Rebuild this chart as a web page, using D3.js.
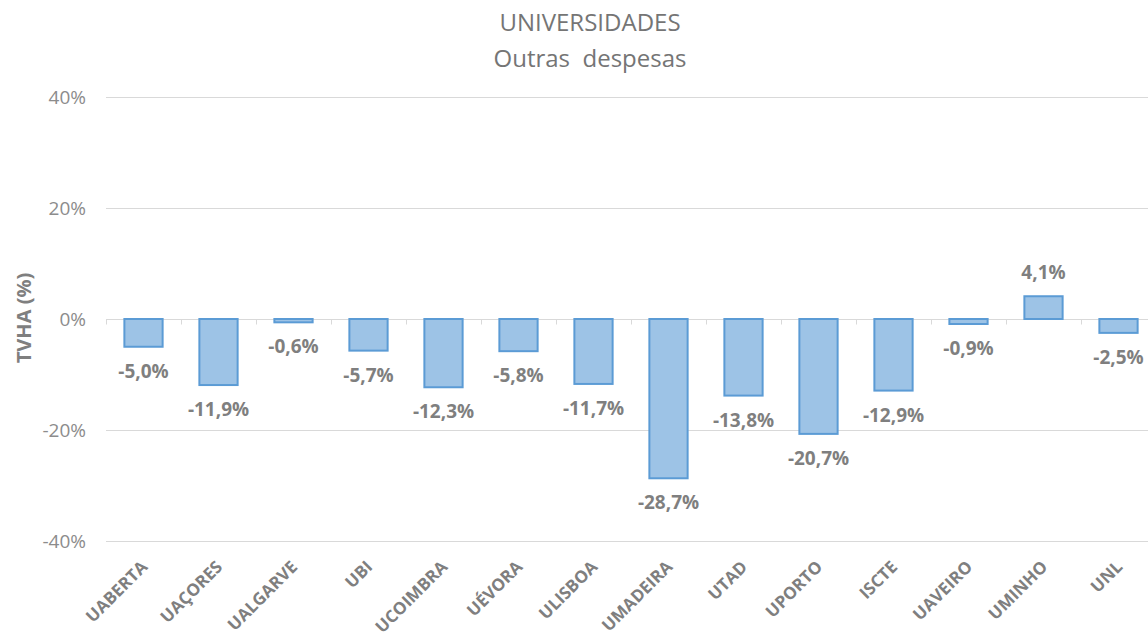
<!DOCTYPE html>
<html><head><meta charset="utf-8">
<script src="https://cdn.jsdelivr.net/npm/d3@7"></script>
<style>body{margin:0;background:#fff}svg{display:block}text{font-family:"Open Sans",Lato,sans-serif}</style>
</head><body><svg id="c" width="1148" height="637"></svg>
<script>
const categories = ["UABERTA","UAÇORES","UALGARVE","UBI","UCOIMBRA","UÉVORA","ULISBOA","UMADEIRA","UTAD","UPORTO","ISCTE","UAVEIRO","UMINHO","UNL"];
const values = [-5.0,-11.9,-0.6,-5.7,-12.3,-5.8,-11.7,-28.7,-13.8,-20.7,-12.9,-0.9,4.1,-2.5];
const yTicks = [40,20,0,-20,-40];
const titleLines = ["UNIVERSIDADES","Outras  despesas"];
const yTitle = "TVHA (%)";

const svg = d3.select("#c");
const x = d3.scaleBand().domain(categories).range([106,1156]).paddingInner(0.49).paddingOuter(0.245);
const xb = d3.scaleBand().domain(categories).range([106,1156]);
const y = d3.scaleLinear().domain([-40,40]).range([541,97]);

// gridlines
svg.append("g").selectAll("line").data(yTicks).join("line")
  .attr("x1",106).attr("x2",1148).attr("y1",d=>Math.round(y(d))+0.5).attr("y2",d=>Math.round(y(d))+0.5)
  .attr("stroke","#D9D9D9").attr("stroke-width",1);
// y labels
svg.append("g").selectAll("text").data(yTicks).join("text")
  .attr("x",86).attr("y",d=>y(d)+7).attr("text-anchor","end")
  .attr("font-size",19).attr("fill","#8C8C8C").text(d=>d+"%");
// zero axis ticks
const z = Math.round(y(0))+0.5;
svg.append("g").selectAll("line").data(categories.concat(["_end"])).join("line")
  .attr("x1",(d,i)=>Math.round(106+i*xb.step())+0.5).attr("x2",(d,i)=>Math.round(106+i*xb.step())+0.5)
  .attr("y1",z).attr("y2",z+5).attr("stroke","#D9D9D9");
// bars
svg.append("g").selectAll("rect").data(values).join("rect")
  .attr("x",(d,i)=>x(categories[i])).attr("width",x.bandwidth())
  .attr("y",d=>y(Math.max(0,d))).attr("height",d=>Math.abs(y(d)-y(0)))
  .attr("fill","#9DC3E6").attr("stroke","#5B9BD5").attr("stroke-width",2);
// value labels
svg.append("g").selectAll("text").data(values).join("text")
  .attr("x",(d,i)=>x(categories[i])+x.bandwidth()/2)
  .attr("y",d=>d<0?y(d)+31:y(d)-17)
  .attr("text-anchor","middle").attr("font-size",19).attr("font-weight","bold").attr("fill","#7F7F7F")
  .text(d=>d.toFixed(1).replace(".",",")+"%");
// x labels
svg.append("g").selectAll("text").data(categories).join("text")
  .attr("transform",d=>`translate(${xb(d)+xb.bandwidth()/2+5},${568}) rotate(-45)`)
  .attr("text-anchor","end").attr("font-size",17).attr("font-weight","bold").attr("fill","#7F7F7F")
  .text(d=>d);
// title
svg.append("g").selectAll("text").data(titleLines).join("text")
  .attr("x",590).attr("y",(d,i)=>31+i*36).attr("text-anchor","middle")
  .attr("font-size",24).attr("fill","#757575").style("white-space","pre").text(d=>d);
// y title
svg.append("text").attr("transform","translate(31,318) rotate(-90)").attr("text-anchor","middle")
  .attr("font-size",20).attr("font-weight","bold").attr("fill","#7F7F7F").text(yTitle);
</script></body></html>
